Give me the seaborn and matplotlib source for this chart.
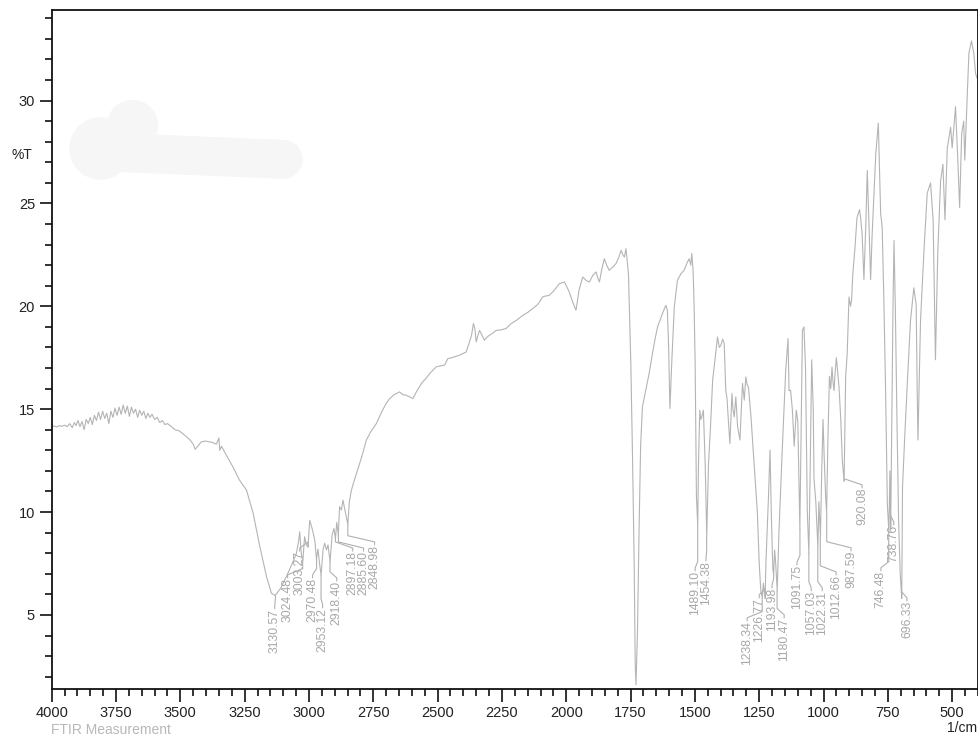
import matplotlib
matplotlib.use("Agg")
import matplotlib.pyplot as plt
import matplotlib.ticker as mticker
import numpy as np
import pandas as pd
import seaborn as sns

# traced FTIR spectrum (wavenumber 1/cm, %T)
wavenumber = [
    4000, 3990, 3980, 3970, 3960, 3950, 3940, 3930, 3920, 3912, 3905, 3898, 3890, 3882,
    3874, 3866, 3858, 3850, 3842, 3834, 3826, 3818, 3810, 3802, 3794, 3786, 3778, 3770,
    3762, 3754, 3746, 3738, 3730, 3722, 3714, 3706, 3698, 3690, 3682, 3674, 3666, 3658,
    3650, 3642, 3634, 3626, 3618, 3610, 3600, 3590, 3580, 3570, 3560, 3550, 3535, 3520,
    3505, 3490, 3475, 3462, 3450, 3442, 3432, 3420, 3405, 3390, 3375, 3360, 3350, 3347,
    3340, 3325, 3296, 3270, 3243, 3217, 3191, 3165, 3146, 3131, 3110, 3088, 3065, 3049,
    3040, 3036, 3030, 3024, 3017, 3010, 3004, 2997, 2990, 2984, 2977, 2971, 2965, 2958,
    2953, 2945, 2939, 2932, 2926, 2918, 2910, 2903, 2897, 2892, 2886, 2881, 2874, 2868,
    2862, 2858, 2849, 2843, 2835, 2820, 2803, 2790, 2777, 2760, 2738, 2720, 2700, 2687,
    2670, 2648, 2635, 2622, 2610, 2596, 2580, 2560, 2545, 2531, 2505, 2490, 2473, 2460,
    2445, 2428, 2410, 2389, 2376, 2368, 2361, 2355, 2350, 2343, 2337, 2328, 2318, 2308,
    2299, 2285, 2272, 2255, 2234, 2214, 2190, 2169, 2150, 2130, 2110, 2092, 2080, 2066,
    2045, 2027, 2015, 2007, 1998, 1988, 1975, 1962, 1950, 1936, 1922, 1910, 1897, 1884,
    1878, 1871, 1862, 1852, 1843, 1833, 1820, 1807, 1795, 1787, 1780, 1774, 1768, 1762,
    1758, 1749, 1742, 1736, 1732, 1729, 1723, 1717, 1711, 1704, 1691, 1678, 1665, 1655,
    1645, 1626, 1613, 1607, 1602, 1600, 1597, 1593, 1589, 1580, 1568, 1554, 1542, 1529,
    1522, 1516, 1512, 1507, 1503, 1499, 1494, 1489, 1486, 1481, 1477, 1473, 1467, 1460,
    1454, 1447, 1440, 1431, 1421, 1412, 1405, 1399, 1392, 1386, 1380, 1375, 1370, 1364,
    1356, 1352, 1347, 1341, 1334, 1325, 1315, 1308, 1302, 1297, 1292, 1282, 1270, 1257,
    1250, 1244, 1238, 1234, 1227, 1224, 1214, 1208, 1203, 1197, 1194, 1190, 1186, 1180,
    1173, 1160, 1147, 1138, 1134, 1128, 1121, 1114, 1106, 1100, 1092, 1088, 1082, 1076,
    1070, 1063, 1057, 1052, 1046, 1040, 1037, 1030, 1022, 1018, 1012, 1007, 1002, 997,
    992, 988, 983, 977, 972, 967, 963, 959, 955, 950, 945, 940, 933, 927,
    920, 914, 908, 901, 895, 891, 886, 878, 870, 860, 855, 850, 843, 836,
    830, 823, 817, 811, 804, 797, 787, 782, 778, 772, 765, 759, 752, 746,
    742, 739, 734, 730, 726, 721, 714, 708, 702, 696, 693, 685, 675, 662,
    649, 640, 636, 633, 628, 623, 610, 597, 584, 574, 565, 556, 545, 536,
    528, 519, 506, 500, 487, 478, 471, 463, 455, 451, 442, 435, 425, 416,
    409, 400,
]
transmittance = [
    14.15, 14.18, 14.14, 14.2, 14.17, 14.22, 14.15, 14.3, 14.1, 14.35, 14.2, 14.45, 14.15, 14.4,
    14.0, 14.5, 14.3, 14.6, 14.25, 14.7, 14.45, 14.85, 14.5, 14.9, 14.55, 14.8, 14.3, 14.9,
    14.6, 15.05, 14.7, 15.1, 14.75, 15.2, 14.8, 15.15, 14.65, 15.1, 14.8, 15.0, 14.6, 14.95,
    14.7, 14.9, 14.55, 14.8, 14.6, 14.75, 14.5, 14.6, 14.35, 14.45, 14.25, 14.3, 14.15, 14.0,
    13.95, 13.8, 13.65, 13.5, 13.3, 13.05, 13.2, 13.4, 13.45, 13.42, 13.38, 13.3, 13.6, 13.0,
    13.2, 12.85, 12.2, 11.55, 11.07, 9.94, 8.32, 6.86, 6.05, 5.95, 6.3, 6.86, 7.5, 7.99,
    8.6, 9.04, 7.99, 7.6, 8.8, 8.4, 8.3, 9.6, 9.3, 9.0, 8.6, 7.7, 8.2, 7.4,
    6.95, 8.2, 8.48, 8.16, 8.4, 7.6, 8.9, 9.2, 8.7, 9.5, 8.9, 10.26, 10.1, 10.58,
    10.2, 9.94, 9.4, 10.5, 11.07, 11.7, 12.36, 12.9, 13.5, 13.9, 14.3, 14.8, 15.28, 15.5,
    15.7, 15.84, 15.7, 15.68, 15.6, 15.52, 15.9, 16.3, 16.5, 16.73, 17.06, 17.1, 17.14, 17.46,
    17.5, 17.57, 17.65, 17.78, 18.27, 18.6, 19.16, 18.9, 18.27, 18.6, 18.83, 18.6, 18.35, 18.5,
    18.59, 18.7, 18.83, 18.85, 18.92, 19.16, 19.35, 19.56, 19.7, 19.89, 20.1, 20.45, 20.5, 20.53,
    20.8, 21.1, 21.15, 21.18, 20.95, 20.69, 20.2, 19.81, 20.8, 21.42, 21.25, 21.18, 21.5, 21.67,
    21.4, 21.18, 21.8, 22.31, 22.0, 21.75, 21.9, 22.07, 22.4, 22.72, 22.5, 22.39, 22.8, 22.07,
    21.5, 17.22, 12.36, 7.51, 2.66, 1.6, 4.27, 9.13, 13.17, 15.11, 15.92, 16.73, 17.7, 18.4,
    19.0, 19.65, 20.05, 19.81, 18.0, 16.89, 15.03, 16.3, 17.54, 19.97, 21.26, 21.59, 21.75, 22.15,
    22.31, 22.0, 22.56, 21.75, 20.0, 17.22, 10.74, 9.37, 12.36, 14.95, 14.5, 14.63, 14.95, 12.36,
    8.8, 12.36, 13.98, 16.41, 17.54, 18.51, 18.0, 18.11, 18.4, 18.19, 15.92, 15.5, 14.47, 13.33,
    15.76, 15.0, 14.63, 15.6, 14.15, 13.5, 16.25, 15.44, 16.57, 16.2, 16.08, 14.63, 12.36, 9.94,
    7.51, 6.2, 5.85, 6.54, 5.8, 7.51, 10.74, 13.01, 9.94, 7.2, 7.0, 8.16, 7.5, 6.2,
    9.13, 13.17, 16.89, 18.43, 15.9, 15.92, 14.95, 13.2, 14.95, 14.4, 9.2, 13.0, 18.83, 19.0,
    17.0, 10.0, 8.0, 12.0, 17.4, 15.0, 11.6, 10.5, 8.3, 10.5, 8.8, 12.0, 14.5, 12.5,
    10.8, 10.0, 13.5, 16.6, 16.0, 17.05, 16.3, 15.9, 16.8, 17.5, 16.8, 16.1, 14.5, 12.5,
    11.5, 16.6, 17.7, 20.45, 20.0, 20.3, 21.6, 22.8, 24.3, 24.7, 24.2, 23.5, 21.3, 23.85,
    26.6, 23.85, 21.3, 23.5, 25.5, 27.4, 28.9, 26.5, 24.5, 23.85, 20.0, 16.1, 10.4, 9.0,
    12.0, 9.2, 15.0, 20.0, 23.2, 20.0, 14.0, 9.5, 7.0, 5.8, 11.2, 13.5, 16.1, 19.3,
    20.9, 20.1, 16.0, 13.5, 16.5, 19.3, 22.6, 25.5, 26.0, 24.2, 17.4, 22.6, 26.1, 26.9,
    24.2, 27.7, 28.7, 27.7, 29.7, 27.1, 24.8, 28.4, 29.0, 27.1, 30.0, 32.3, 32.9, 32.3,
    31.3, 31.0,
]

# picked peaks
peak_labels = ["3130.57", "3024.48", "3003.27", "2970.48", "2953.12", "2918.40",
               "2897.18", "2885.60", "2848.98", "1489.10", "1454.38", "1238.34",
               "1226.77", "1193.98", "1180.47", "1091.75", "1057.03", "1022.31",
               "1012.66", "987.59", "920.08", "746.48", "738.76", "696.33"]
peak_wn = [3130.57, 3024.48, 3003.27, 2970.48, 2953.12, 2918.40, 2897.18, 2885.60,
           2848.98, 1489.10, 1454.38, 1238.34, 1226.77, 1193.98, 1180.47, 1091.75,
           1057.03, 1022.31, 1012.66, 987.59, 920.08, 746.48, 738.76, 696.33]
peak_t = [5.95, 7.6, 8.3, 7.7, 6.95, 7.6, 8.7, 8.9, 9.4, 9.37, 8.8, 5.85,
          5.8, 7.0, 6.2, 9.2, 8.0, 8.3, 8.8, 10.0, 11.5, 9.0, 9.2, 5.8]

# where the rotated labels sit (top of text), layout only
label_x = [3133, 3083, 3036, 2986, 2947, 2892, 2830, 2788, 2745, 1499, 1457, 1297,
           1250, 1200, 1153, 1103, 1048, 1005, 951, 893, 850, 777, 727, 676]
label_y = [5.30, 6.80, 8.10, 6.80, 5.34, 6.65, 8.10, 8.10, 8.40, 7.14, 7.62, 4.71,
           5.83, 6.31, 4.86, 7.43, 6.17, 6.17, 6.94, 8.11, 11.17, 7.14, 9.37, 5.68]

df = pd.DataFrame({"wn": wavenumber, "T": transmittance})

sns.set_theme(style="ticks")
plt.rcParams["font.family"] = ["Liberation Sans", "DejaVu Sans"]

fig = plt.figure(figsize=(9.79, 7.38), dpi=100)
ax = fig.add_axes([51.7 / 979, 1 - 689 / 738, (978 - 51.7) / 979, 679 / 738])

# faint smudge in the upper left of the original
smudge_col = "#f6f6f6"
ax.plot([0.052], [0.797], "o", ms=44, color=smudge_col, transform=ax.transAxes, zorder=0)
ax.plot([0.087], [0.831], "o", ms=36, color=smudge_col, transform=ax.transAxes, zorder=0)
ax.plot([0.075, 0.25], [0.79, 0.78], color=smudge_col, lw=28,
        solid_capstyle="round", transform=ax.transAxes, zorder=0)

sns.lineplot(data=df, x="wn", y="T", ax=ax, sort=False, estimator=None,
             color="#b4b4b4", lw=0.8, zorder=2)

for lab, pw, pt, lx, ly in zip(peak_labels, peak_wn, peak_t, label_x, label_y):
    kink = ly + 0.45
    ax.plot([pw, pw, lx, lx], [pt, kink, ly + 0.15, ly], color="#b0b0b0", lw=0.8, zorder=2)
    ax.text(lx, ly, lab, rotation=90, ha="center", va="top", fontsize=8.8,
            color="#a8a8a8", zorder=3)

ax.set_xlim(4000, 399.6)
ax.set_ylim(1.4, 34.4)
ax.xaxis.set_major_locator(mticker.MultipleLocator(250))
ax.xaxis.set_minor_locator(mticker.MultipleLocator(50))
ax.yaxis.set_major_locator(mticker.MultipleLocator(5))
ax.yaxis.set_minor_locator(mticker.MultipleLocator(1))
ax.tick_params(which="major", direction="out", length=9, width=1.2, color="#111",
               labelsize=10.5, labelcolor="#222", pad=3)
ax.tick_params(which="minor", direction="out", length=5, width=1.2, color="#111")
ax.set_xlabel("")
ax.set_ylabel("")
for s in ax.spines.values():
    s.set_visible(True)
    s.set_color("#111")
    s.set_linewidth(1.3)

fig.text(22 / 979, 1 - 155 / 738, "%T", fontsize=10, color="#222", ha="center", va="center")
fig.text(51 / 979, 1 - 730 / 738, "FTIR Measurement", fontsize=10, color="#b8b8b8",
         ha="left", va="center")
fig.text(977 / 979, 1 - 728 / 738, "1/cm", fontsize=10, color="#222", ha="right", va="center")

fig.savefig("out.png", dpi=100, facecolor="white")
